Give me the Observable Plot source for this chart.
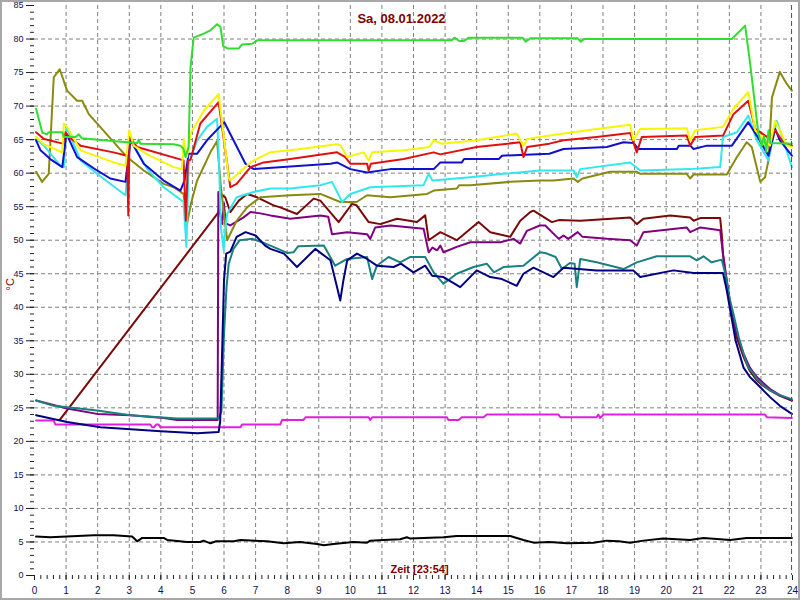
<!DOCTYPE html>
<html>
<head>
<meta charset="utf-8">
<script src="https://cdn.jsdelivr.net/npm/d3@7"></script>
<script src="https://cdn.jsdelivr.net/npm/@observablehq/plot@0.6"></script>
<style>
  html, body { margin: 0; padding: 0; background: #ffffff; }
  #wrap { position: relative; width: 800px; height: 600px; overflow: hidden; }
  #border { position: absolute; left: 0; top: 0; width: 800px; height: 600px; box-sizing: border-box; border: 2px solid #a8a8a8; pointer-events: none; }
</style>
</head>
<body>
<div id="wrap"><div id="border"></div></div>
<script>
// ---- Texts ----
const title = "Sa, 08.01.2022";
const xTitle = "Zeit [23:54]";
const yTitle = "°C";
const nowHour = 23.97;

// ---- Tick values ----
const xMajor = d3.range(0, 25, 1);
const xMinor = d3.range(0, 24.01, 0.2);
const xGridVals = d3.range(1, 24, 1);
const yMajor = d3.range(0, 86, 5);
const yMinor = d3.range(0, 86, 1);
const yGridVals = d3.range(5, 85, 5);

// ---- Series: [hour, °C] ----
const green = [[0.05,69.6],[0.25,66.0],[0.4,65.8],[0.45,66.1],[0.88,66.1],[0.93,65.4],[1.3,65.4],[1.4,65.8],[1.5,65.2],[2.2,64.9],[2.93,64.6],[3.25,64.5],[3.3,65.0],[3.35,64.4],[4.4,64.3],[4.62,64.1],[4.72,63.6],[4.78,62.4],[4.88,63.9],[4.94,75.8],[5.04,80.2],[5.36,80.8],[5.57,81.3],[5.78,82.2],[5.89,81.8],[5.97,79.0],[6.1,78.6],[6.47,78.6],[6.57,79.2],[6.89,79.3],[7.05,79.8],[13.2,79.8],[13.3,80.2],[13.45,79.7],[13.6,79.7],[13.75,80.2],[15.45,80.2],[15.55,79.6],[15.7,80.1],[17.2,80.1],[17.3,79.6],[17.4,80.0],[22.08,80.0],[22.5,82.0],[22.66,76.3],[22.92,65.9],[23.03,64.1],[23.1,65.5],[23.17,63.2],[23.24,66.4],[23.3,64.5],[23.98,64.4]];
const yellow = [[0.05,65.4],[0.3,64.3],[0.5,63.9],[0.88,63.1],[0.93,67.4],[1.03,66.9],[1.46,63.4],[2.51,61.6],[2.88,61.1],[3.0,66.4],[3.14,64.1],[3.57,62.8],[4.41,60.9],[4.67,60.6],[4.73,65.1],[4.83,62.4],[4.94,65.9],[5.36,69.3],[5.83,71.8],[6.15,59.3],[6.2,58.9],[6.84,61.6],[7.15,62.4],[7.47,63.1],[8.1,63.4],[9.58,64.3],[9.7,64.1],[9.9,62.4],[10.42,63.1],[10.58,61.9],[10.69,63.1],[11.7,63.4],[12.5,63.9],[12.64,64.9],[12.9,64.4],[14.0,64.9],[15.27,65.9],[15.48,64.1],[15.6,65.1],[16.0,65.4],[16.75,65.9],[17.8,66.6],[18.86,67.2],[18.96,64.9],[19.18,66.6],[20.65,66.7],[20.76,64.9],[20.92,66.4],[21.8,66.9],[22.13,69.6],[22.6,72.1],[22.82,66.4],[23.08,65.1],[23.29,64.1],[23.45,67.8],[23.6,66.4],[23.82,64.1],[23.98,63.9]];
const red = [[0.05,66.1],[0.3,65.1],[0.9,64.4],[0.98,66.1],[1.09,65.4],[1.46,64.1],[2.5,63.1],[2.93,62.6],[2.97,53.7],[3.01,65.4],[3.25,63.9],[4.72,61.9],[4.79,52.9],[4.86,61.9],[4.94,62.0],[5.25,67.4],[5.83,70.6],[6.1,61.4],[6.2,57.9],[6.4,58.4],[6.84,60.9],[7.26,61.6],[8.1,62.1],[9.58,63.1],[9.84,62.4],[10.0,61.4],[10.53,61.4],[10.58,60.4],[10.65,61.4],[11.69,62.1],[12.64,63.1],[12.85,62.8],[14.0,63.9],[15.38,64.6],[15.48,62.4],[15.6,63.9],[16.3,64.4],[16.75,64.9],[17.8,65.4],[18.86,66.0],[19.07,63.1],[19.23,65.4],[20.65,65.6],[20.76,64.1],[20.92,65.4],[21.8,65.6],[22.13,68.8],[22.6,70.8],[22.82,66.6],[23.29,65.1],[23.45,66.4],[23.71,64.6],[23.98,64.1]];
const blue = [[0.05,64.9],[0.19,63.4],[0.5,62.1],[0.88,60.9],[1.01,65.9],[1.35,62.4],[1.98,60.4],[2.4,59.2],[2.88,58.7],[3.04,64.9],[3.46,61.4],[4.09,58.9],[4.62,57.4],[4.75,58.9],[4.88,62.9],[5.15,62.9],[5.46,64.9],[6.01,67.6],[6.68,61.4],[6.94,60.6],[9.37,61.4],[9.58,61.6],[10.0,60.6],[10.53,60.1],[11.27,60.6],[12.64,60.6],[12.85,61.6],[13.53,61.6],[13.6,62.1],[14.7,62.1],[14.8,62.6],[16.3,62.9],[16.75,63.6],[18.12,63.9],[18.65,64.6],[18.96,64.5],[19.12,63.6],[20.34,63.6],[20.4,64.1],[20.76,64.1],[20.87,63.6],[21.29,64.1],[22.08,64.1],[22.6,67.6],[22.87,65.6],[23.24,62.6],[23.45,66.6],[23.6,64.9],[23.98,62.6]];
const cyan = [[0.05,65.1],[0.3,64.1],[0.82,61.1],[0.93,60.9],[1.01,66.9],[1.46,61.9],[1.98,59.9],[2.88,56.7],[3.04,65.1],[3.57,60.6],[4.09,57.9],[4.72,55.7],[4.81,49.0],[4.88,61.4],[5.15,64.9],[5.46,66.9],[5.78,68.1],[5.84,62.0],[5.9,52.0],[5.99,48.5],[6.05,52.0],[6.1,53.9],[6.4,56.4],[6.94,57.2],[7.47,57.7],[8.1,57.7],[9.05,58.2],[9.42,58.7],[9.74,55.7],[10.0,56.9],[10.63,57.9],[12.32,58.2],[12.48,59.9],[12.6,58.9],[13.8,59.4],[14.85,59.9],[16.0,60.4],[17.07,60.4],[17.17,59.4],[17.28,60.6],[18.86,61.6],[19.18,60.4],[20.76,60.6],[21.71,60.9],[21.8,65.4],[22.24,66.1],[22.6,68.6],[22.87,64.9],[23.24,61.9],[23.5,67.8],[23.71,64.9],[23.98,60.9]];
const olive = [[0.05,60.2],[0.24,58.7],[0.45,59.9],[0.61,74.3],[0.8,75.5],[1.03,72.3],[1.35,70.8],[1.51,70.8],[1.72,68.8],[2.93,62.4],[3.46,60.4],[4.09,58.4],[4.41,57.9],[4.72,56.9],[4.83,52.4],[4.95,55.4],[5.15,58.9],[5.57,63.1],[5.78,64.8],[5.9,58.0],[6.1,50.0],[6.4,52.9],[6.73,54.9],[7.15,56.4],[8.1,56.7],[9.05,56.9],[9.68,55.7],[10.2,55.7],[10.53,56.7],[11.27,56.4],[12.43,56.9],[12.64,57.4],[13.37,57.7],[13.45,58.2],[13.8,58.2],[15.06,58.7],[16.0,58.9],[16.43,58.9],[17.07,59.2],[17.2,58.7],[17.35,59.2],[18.23,60.2],[19.07,60.2],[19.18,59.9],[20.65,59.9],[20.76,59.2],[20.87,59.8],[21.92,59.8],[22.24,62.4],[22.55,64.6],[22.71,63.9],[22.98,58.7],[23.13,59.4],[23.24,61.9],[23.35,71.3],[23.6,75.1],[23.82,73.3],[23.98,72.3]];
const maroon = [[0.8,23.2],[5.83,54.2],[5.89,56.9],[6.04,56.4],[6.2,54.2],[6.47,55.9],[6.73,56.9],[7.05,56.4],[7.57,55.2],[7.78,54.9],[8.31,53.9],[8.84,56.2],[9.05,55.9],[9.63,52.7],[10.05,55.4],[10.2,55.2],[10.58,52.7],[10.95,52.4],[11.48,53.2],[12.11,52.7],[12.37,53.7],[12.48,50.0],[12.85,51.2],[13.37,50.0],[14.06,52.7],[14.43,51.2],[15.06,50.5],[15.38,52.9],[15.7,54.2],[15.8,54.4],[16.38,52.7],[16.6,53.0],[17.28,52.9],[18.86,53.4],[19.07,52.4],[19.28,53.2],[20.13,53.7],[20.76,53.4],[20.87,52.9],[21.08,53.3],[21.71,53.3],[21.76,50.9],[21.8,47.9],[21.92,43.5],[22.03,40.0],[22.2,36.0],[22.45,32.6],[22.65,30.5],[22.87,29.1],[23.1,28.2],[23.29,27.6],[23.6,26.8],[23.98,26.1]];
const purple = [[0.05,26.1],[1.03,24.9],[1.98,24.1],[3.04,23.9],[4.09,23.5],[4.52,23.2],[5.8,23.2],[5.82,57.2],[5.88,54.0],[5.94,52.4],[6.0,55.5],[6.05,52.5],[6.2,52.2],[6.62,53.4],[6.84,54.2],[7.15,54.0],[7.47,53.7],[8.1,53.2],[9.05,53.7],[9.3,53.5],[9.42,50.9],[9.9,51.2],[10.53,50.9],[10.63,50.2],[10.79,51.9],[11.27,52.2],[12.32,51.7],[12.48,48.2],[12.6,48.9],[12.75,48.5],[12.85,49.2],[12.95,48.2],[13.37,49.0],[13.8,49.7],[14.75,49.7],[15.17,50.2],[15.38,49.5],[15.59,51.4],[16.0,52.2],[16.17,52.2],[16.6,50.2],[16.75,50.7],[16.9,50.2],[17.2,51.2],[17.35,50.5],[18.12,50.2],[18.86,50.0],[19.07,49.2],[19.28,51.2],[20.65,51.9],[20.76,51.2],[21.08,51.9],[21.71,51.5],[21.8,47.9],[21.92,44.0],[22.03,40.5],[22.2,36.5],[22.45,33.1],[22.65,31.0],[22.87,29.6],[23.1,28.6],[23.29,27.8],[23.6,26.9],[23.98,26.1]];
const teal = [[0.05,26.1],[0.61,25.3],[1.98,24.6],[3.04,23.9],[4.52,23.4],[5.83,23.4],[5.92,24.5],[6.0,36.0],[6.08,43.0],[6.15,46.5],[6.3,48.7],[6.5,50.0],[6.9,50.2],[7.2,49.7],[7.47,49.2],[8.0,48.1],[8.2,48.2],[8.35,49.1],[9.16,49.2],[9.52,46.2],[9.9,47.2],[10.53,47.5],[10.69,44.2],[10.84,46.2],[11.21,47.5],[11.58,46.7],[11.9,47.5],[12.37,47.5],[12.64,45.2],[12.95,43.5],[13.37,45.0],[13.9,46.0],[14.32,46.5],[14.55,45.2],[14.85,46.0],[15.48,46.2],[16.0,48.2],[16.17,48.1],[16.5,47.5],[16.7,45.7],[16.95,46.6],[17.1,46.5],[17.17,43.0],[17.28,47.2],[17.8,46.7],[18.65,45.7],[19.07,46.7],[19.7,47.6],[20.76,47.6],[20.97,47.0],[21.18,47.6],[21.44,46.7],[21.76,47.1],[21.9,44.5],[22.0,41.5],[22.13,39.0],[22.3,35.5],[22.45,33.1],[22.6,31.0],[22.75,30.2],[22.87,29.3],[23.1,28.3],[23.29,27.6],[23.6,26.9],[23.98,26.3]];
const navy = [[0.05,23.9],[1.03,22.9],[2.09,22.1],[4.0,21.5],[5.15,21.2],[5.83,21.4],[5.88,23.0],[5.95,35.0],[6.0,44.0],[6.07,48.0],[6.2,48.3],[6.4,50.5],[6.68,51.2],[7.0,50.7],[7.3,49.2],[7.47,48.7],[7.9,48.0],[8.31,46.0],[8.89,48.7],[9.37,47.0],[9.58,43.0],[9.68,41.0],[9.78,44.0],[9.9,47.0],[10.21,48.0],[10.53,47.2],[10.84,46.2],[11.37,46.0],[11.6,46.5],[12.0,45.2],[12.37,46.2],[12.59,44.7],[12.95,44.5],[13.48,43.0],[14.0,45.5],[14.43,44.5],[14.8,44.2],[15.27,43.2],[15.48,45.0],[15.8,45.9],[16.43,44.5],[16.75,45.9],[17.8,45.5],[18.96,45.5],[19.18,44.5],[20.23,45.5],[20.87,45.1],[21.8,45.1],[21.92,42.5],[22.03,39.5],[22.2,35.0],[22.45,31.0],[22.65,29.6],[22.87,28.6],[23.1,27.5],[23.29,26.6],[23.6,25.3],[23.98,24.1]];
const magenta = [[0.05,23.1],[0.61,23.1],[0.66,22.5],[3.67,22.5],[3.73,22.1],[3.78,22.1],[3.85,22.5],[3.93,22.5],[3.99,22.1],[6.52,22.1],[6.57,22.5],[7.78,22.5],[7.84,23.2],[8.52,23.2],[8.58,23.6],[10.58,23.6],[10.63,23.2],[10.69,23.6],[13.06,23.6],[13.1,23.2],[13.43,23.2],[13.53,23.6],[14.22,23.6],[14.32,24.0],[16.59,24.0],[16.65,23.6],[17.8,23.6],[17.85,24.0],[17.91,23.5],[18.02,24.0],[23.13,24.0],[23.19,23.6],[23.98,23.5]];
const black = [[0.05,5.8],[0.5,5.7],[1.88,6.0],[2.5,6.0],[3.09,5.8],[3.25,5.1],[3.41,5.6],[4.09,5.6],[4.2,5.3],[4.83,5.0],[5.25,5.0],[5.35,5.2],[5.57,4.8],[5.75,5.1],[6.31,5.1],[6.52,5.3],[7.36,5.1],[7.89,4.8],[8.4,5.0],[8.95,4.7],[9.16,4.5],[9.47,4.7],[10.1,5.0],[10.53,4.9],[10.63,5.2],[11.05,5.3],[11.58,5.4],[11.79,5.7],[11.9,5.5],[12.95,5.7],[13.37,5.9],[15.06,5.9],[15.48,5.3],[15.8,4.9],[16.3,5.0],[16.86,4.8],[17.7,4.9],[18.12,5.2],[18.5,5.1],[18.86,4.9],[19.28,5.2],[19.91,5.5],[20.76,5.3],[21.18,5.6],[22.03,5.3],[22.55,5.6],[23.98,5.6]];

// drawing order (bottom → top) with colours
const seriesList = [
  [black, "#000000"],
  [magenta, "#e020e0"],
  [maroon, "#7a0a0a"],
  [purple, "#800080"],
  [teal, "#1a8080"],
  [navy, "#000080"],
  [olive, "#8a8a10"],
  [cyan, "#30e8f0"],
  [blue, "#1010d0"],
  [red, "#e01010"],
  [yellow, "#f6f600"],
  [green, "#30dd30"]
];

const lineMarks = seriesList.map(([data, color]) =>
  Plot.line(data, {x: d => d[0], y: d => d[1], stroke: color, strokeWidth: 2, strokeLinejoin: "round", strokeLinecap: "round"})
);

const chart = Plot.plot({
  width: 800,
  height: 600,
  marginLeft: 34,
  marginRight: 8,
  marginTop: 5,
  marginBottom: 25,
  x: {domain: [0, 24]},
  y: {domain: [0, 85]},
  style: {fontFamily: "Arial, 'Liberation Sans', sans-serif", background: "transparent", overflow: "visible"},
  marks: [
    Plot.gridX(xGridVals, {stroke: "#808080", strokeOpacity: 1, strokeDasharray: "4,3"}),
    Plot.gridY(yGridVals, {stroke: "#808080", strokeOpacity: 1, strokeDasharray: "4,3"}),
    Plot.axisY(yMajor, {tickSize: 8, tickPadding: 3, fontSize: 9, fill: "#101050", stroke: "#202020", label: null}),
    Plot.axisY(yMinor, {tickSize: 4, text: null, stroke: "#202020", label: null}),
    Plot.axisX(xMajor, {tickSize: 5, tickPadding: 6, fontSize: 10, fill: "#101050", stroke: "#202020", label: null}),
    Plot.axisX(xMinor, {tickSize: 4, text: null, stroke: "#202020", label: null}),
    ...lineMarks,
    Plot.ruleX([nowHour], {stroke: "#108010", strokeWidth: 1, strokeDasharray: "5,3"}),
    Plot.text([title], {text: d => d, frameAnchor: "top", dx: -12, dy: 13, lineAnchor: "middle", fontSize: 13, fontWeight: "bold", fill: "#800000"}),
    Plot.text([xTitle], {text: d => d, frameAnchor: "bottom", dx: 6, dy: -6, lineAnchor: "middle", fontSize: 11, fontWeight: "bold", fill: "#800000"}),
    Plot.text([yTitle], {text: d => d, frameAnchor: "left", dx: -24, rotate: -90, lineAnchor: "middle", fontSize: 11, fill: "#800000"})
  ]
});

document.getElementById("wrap").insertBefore(chart, document.getElementById("border"));
</script>
</body>
</html>
